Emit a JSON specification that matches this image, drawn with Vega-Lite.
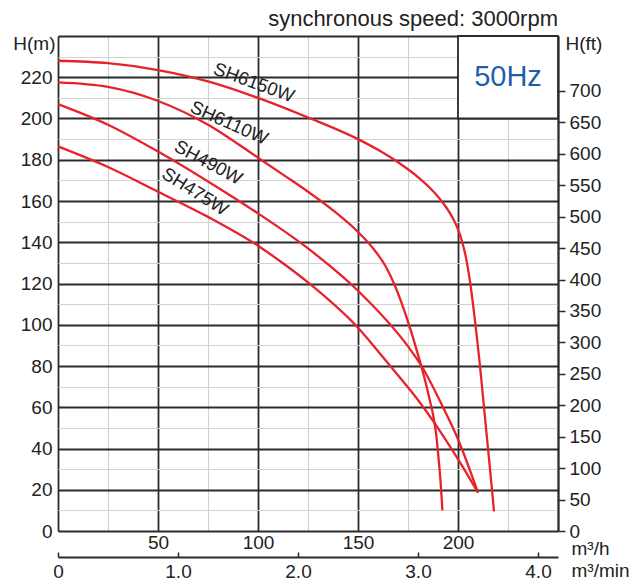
{
  "$schema": "https://vega.github.io/schema/vega-lite/v6.json",
  "description": "Pump performance curves, synchronous speed 3000rpm, 50Hz",
  "autosize": {"type": "none"},
  "width": 500,
  "height": 495,
  "padding": {"left": 58, "top": 36, "right": 85, "bottom": 55},
  "background": "white",
  "datasets": {
    "curves": [
      {"model": "SH6150W", "Q": 0, "H": 228},
      {"model": "SH6150W", "Q": 25, "H": 226.8},
      {"model": "SH6150W", "Q": 50, "H": 223.5},
      {"model": "SH6150W", "Q": 75, "H": 218},
      {"model": "SH6150W", "Q": 100, "H": 210},
      {"model": "SH6150W", "Q": 125, "H": 200.5},
      {"model": "SH6150W", "Q": 150, "H": 190},
      {"model": "SH6150W", "Q": 160, "H": 184.8},
      {"model": "SH6150W", "Q": 170, "H": 178.8},
      {"model": "SH6150W", "Q": 180, "H": 171.6},
      {"model": "SH6150W", "Q": 186, "H": 166.3},
      {"model": "SH6150W", "Q": 192, "H": 159.7},
      {"model": "SH6150W", "Q": 197.5, "H": 151.5},
      {"model": "SH6150W", "Q": 200, "H": 146.3},
      {"model": "SH6150W", "Q": 202, "H": 140.5},
      {"model": "SH6150W", "Q": 204, "H": 132.5},
      {"model": "SH6150W", "Q": 206, "H": 121},
      {"model": "SH6150W", "Q": 208, "H": 106},
      {"model": "SH6150W", "Q": 209.5, "H": 93.5},
      {"model": "SH6150W", "Q": 211, "H": 80},
      {"model": "SH6150W", "Q": 213, "H": 60},
      {"model": "SH6150W", "Q": 215, "H": 40},
      {"model": "SH6150W", "Q": 217, "H": 20},
      {"model": "SH6150W", "Q": 218, "H": 9.5},
      {"model": "SH6110W", "Q": 0, "H": 217.5},
      {"model": "SH6110W", "Q": 25, "H": 215.3},
      {"model": "SH6110W", "Q": 50, "H": 208.5},
      {"model": "SH6110W", "Q": 75, "H": 197},
      {"model": "SH6110W", "Q": 100, "H": 181},
      {"model": "SH6110W", "Q": 112.5, "H": 172.8},
      {"model": "SH6110W", "Q": 125, "H": 164.5},
      {"model": "SH6110W", "Q": 137.5, "H": 155.5},
      {"model": "SH6110W", "Q": 150, "H": 145},
      {"model": "SH6110W", "Q": 158, "H": 136.5},
      {"model": "SH6110W", "Q": 164, "H": 128},
      {"model": "SH6110W", "Q": 168, "H": 120},
      {"model": "SH6110W", "Q": 172, "H": 110},
      {"model": "SH6110W", "Q": 176, "H": 98.5},
      {"model": "SH6110W", "Q": 180, "H": 85.5},
      {"model": "SH6110W", "Q": 183, "H": 75},
      {"model": "SH6110W", "Q": 186, "H": 63},
      {"model": "SH6110W", "Q": 188, "H": 54},
      {"model": "SH6110W", "Q": 189.3, "H": 45},
      {"model": "SH6110W", "Q": 190.3, "H": 35},
      {"model": "SH6110W", "Q": 191.2, "H": 25},
      {"model": "SH6110W", "Q": 191.9, "H": 15},
      {"model": "SH6110W", "Q": 192.2, "H": 10},
      {"model": "SH490W", "Q": 0, "H": 207},
      {"model": "SH490W", "Q": 25, "H": 197},
      {"model": "SH490W", "Q": 50, "H": 184},
      {"model": "SH490W", "Q": 75, "H": 169.5},
      {"model": "SH490W", "Q": 100, "H": 154},
      {"model": "SH490W", "Q": 125, "H": 137},
      {"model": "SH490W", "Q": 150, "H": 116.5},
      {"model": "SH490W", "Q": 175, "H": 89.5},
      {"model": "SH490W", "Q": 181.8, "H": 80},
      {"model": "SH490W", "Q": 192, "H": 61},
      {"model": "SH490W", "Q": 200, "H": 44.5},
      {"model": "SH490W", "Q": 210, "H": 18.6},
      {"model": "SH475W", "Q": 0, "H": 186.5},
      {"model": "SH475W", "Q": 25, "H": 176.5},
      {"model": "SH475W", "Q": 50, "H": 164.5},
      {"model": "SH475W", "Q": 75, "H": 152.3},
      {"model": "SH475W", "Q": 100, "H": 138.3},
      {"model": "SH475W", "Q": 112.5, "H": 129.8},
      {"model": "SH475W", "Q": 125, "H": 120.5},
      {"model": "SH475W", "Q": 150, "H": 98.5},
      {"model": "SH475W", "Q": 160, "H": 87.2},
      {"model": "SH475W", "Q": 170, "H": 75.5},
      {"model": "SH475W", "Q": 180, "H": 63.5},
      {"model": "SH475W", "Q": 188.3, "H": 52.3},
      {"model": "SH475W", "Q": 200, "H": 34.8},
      {"model": "SH475W", "Q": 210, "H": 18.6}
    ],
    "labels": [
      {"model": "SH6150W", "Q": 98, "H": 217.5},
      {"model": "SH6110W", "Q": 85.6, "H": 197.9},
      {"model": "SH490W", "Q": 75.2, "H": 178.7},
      {"model": "SH475W", "Q": 68.5, "H": 164.6}
    ],
    "box": [{"label": "50Hz"}],
    "heading": [{"text": "synchronous speed: 3000rpm"}]
  },
  "layer": [
    {
      "data": {"name": "box"},
      "mark": {"type": "rect", "fill": "white", "stroke": "#2b2b2b", "strokeWidth": 1.8},
      "encoding": {
        "x": {"datum": 200, "type": "quantitative", "axis": null},
        "x2": {"datum": 250},
        "y": {"datum": 200, "type": "quantitative", "axis": null},
        "y2": {"datum": 240}
      }
    },
    {
      "data": {"name": "curves"},
      "mark": {"type": "line", "color": "#e8222a", "strokeWidth": 2.3, "interpolate": "monotone"},
      "encoding": {
        "x": {
          "field": "Q",
          "type": "quantitative",
          "scale": {"domain": [0, 250], "nice": false, "zero": false},
          "axis": {
            "orient": "bottom",
            "values": [0, 25, 50, 75, 100, 125, 150, 175, 200, 225, 250],
            "grid": true,
            "gridColor": {"condition": {"test": "datum.value % 50 === 0", "value": "#2b2b2b"}, "value": "#d2d2d2"},
            "gridWidth": {"condition": {"test": "datum.value % 50 === 0", "value": 1.8}, "value": 1.2},
            "ticks": false,
            "domain": false,
            "labelExpr": "datum.value % 50 === 0 && datum.value > 0 && datum.value < 250 ? datum.label : ''",
            "labelOverlap": false,
            "labelFlush": false,
            "labelPadding": 2,
            "title": "m³/h",
            "titleAngle": 0,
            "titleAlign": "left",
            "titleBaseline": "middle",
            "titleX": 513,
            "titleY": 17
          }
        },
        "y": {
          "field": "H",
          "type": "quantitative",
          "scale": {"domain": [0, 240], "nice": false},
          "axis": {
            "orient": "left",
            "values": [0, 10, 20, 30, 40, 50, 60, 70, 80, 90, 100, 110, 120, 130, 140, 150, 160, 170, 180, 190, 200, 210, 220, 230, 240],
            "grid": true,
            "gridColor": {"condition": {"test": "datum.value % 20 === 0", "value": "#2b2b2b"}, "value": "#d2d2d2"},
            "gridWidth": {"condition": {"test": "datum.value % 20 === 0", "value": 1.8}, "value": 1.2},
            "ticks": false,
            "domain": false,
            "labelExpr": "datum.value % 20 === 0 && datum.value < 240 ? datum.label : ''",
            "labelOverlap": false,
            "labelFlush": false,
            "labelPadding": 6,
            "title": "H(m)",
            "titleAngle": 0,
            "titleAlign": "right",
            "titleBaseline": "middle",
            "titleX": -3,
            "titleY": 7
          }
        },
        "detail": {"field": "model"}
      }
    },
    {
      "data": {"name": "labels"},
      "mark": {"type": "text", "fontSize": 18.5, "color": "#222", "align": "center", "baseline": "middle"},
      "encoding": {
        "x": {"field": "Q", "type": "quantitative", "axis": null},
        "y": {"field": "H", "type": "quantitative", "axis": null},
        "text": {"field": "model"},
        "angle": {
          "field": "model",
          "type": "nominal",
          "scale": {"domain": ["SH6150W", "SH6110W", "SH490W", "SH475W"], "range": [20, 32, 31, 30]},
          "legend": null
        }
      }
    },
    {
      "data": {"name": "box"},
      "mark": {"type": "text", "fontSize": 29, "color": "#1f5fae", "align": "center", "baseline": "middle"},
      "encoding": {
        "x": {"datum": 225, "type": "quantitative", "axis": null},
        "y": {"datum": 220, "type": "quantitative", "axis": null},
        "text": {"field": "label"}
      }
    },
    {
      "data": {"name": "heading"},
      "mark": {"type": "text", "fontSize": 22, "color": "#222", "align": "right", "baseline": "alphabetic", "clip": false},
      "encoding": {
        "x": {"datum": 250, "type": "quantitative", "axis": null},
        "y": {"datum": 244.85, "type": "quantitative", "axis": null},
        "text": {"field": "text"}
      }
    },
    {
      "data": {"name": "curves"},
      "mark": {"type": "point", "opacity": 0},
      "encoding": {
        "y": {
          "field": "H",
          "type": "quantitative",
          "axis": {
            "orient": "right",
            "values": [0, 15.24, 30.48, 45.72, 60.96, 76.2, 91.44, 106.68, 121.92, 137.16, 152.4, 167.64, 182.88, 198.12, 213.36],
            "labelExpr": "format(round(datum.value * 3.28084 / 50) * 50, 'd')",
            "grid": false,
            "ticks": true,
            "tickSize": 7,
            "tickColor": "#2b2b2b",
            "tickWidth": 1.5,
            "domain": true,
            "domainColor": "#2b2b2b",
            "domainWidth": 1.8,
            "labelOverlap": false,
            "labelFlush": false,
            "labelPadding": 4,
            "title": "H(ft)",
            "titleAngle": 0,
            "titleAlign": "left",
            "titleBaseline": "middle",
            "titleX": 7,
            "titleY": 7
          }
        }
      }
    },
    {
      "data": {"name": "curves"},
      "mark": {"type": "point", "opacity": 0},
      "encoding": {
        "x": {
          "field": "Q",
          "type": "quantitative",
          "axis": {
            "orient": "bottom",
            "offset": 26,
            "values": [0, 60, 120, 180, 240],
            "labelExpr": "datum.value === 0 ? '0' : format(datum.value / 60, '.1f')",
            "grid": false,
            "ticks": true,
            "tickSize": -5,
            "tickColor": "#2b2b2b",
            "tickWidth": 1.5,
            "domain": true,
            "domainColor": "#2b2b2b",
            "domainWidth": 1.8,
            "labelOverlap": false,
            "labelFlush": false,
            "labelPadding": 10,
            "title": "m³/min",
            "titleAngle": 0,
            "titleAlign": "left",
            "titleBaseline": "middle",
            "titleX": 513,
            "titleY": 13
          }
        }
      }
    }
  ],
  "resolve": {"axis": {"x": "independent", "y": "independent"}},
  "config": {
    "view": {"stroke": null},
    "font": "Liberation Sans",
    "text": {"font": "Liberation Sans"},
    "axis": {
      "labelFont": "Liberation Sans",
      "titleFont": "Liberation Sans",
      "labelColor": "#222",
      "titleColor": "#222",
      "labelFontSize": 19,
      "titleFontSize": 19,
      "titleFontWeight": "normal"
    }
  }
}
